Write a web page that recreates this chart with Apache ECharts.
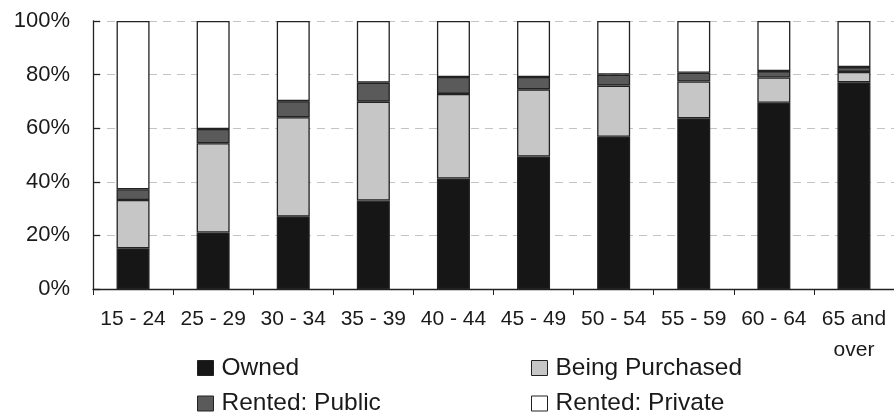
<!DOCTYPE html>
<html>
<head>
<meta charset="utf-8">
<script src="https://cdn.jsdelivr.net/npm/echarts@6/dist/echarts.min.js"></script>
<style>
  html, body { margin: 0; padding: 0; background: #fff; }
  #chart { width: 894px; height: 414px; }
</style>
</head>
<body>
<div id="chart"></div>
<script>
// Housing tenure by age group (percent of households)
const ageGroups = ['15 - 24', '25 - 29', '30 - 34', '35 - 39', '40 - 44', '45 - 49', '50 - 54', '55 - 59', '60 - 64', '65 and\nover'];
const owned          = [15.2, 21.1, 27.0, 33.0, 41.2, 49.4, 56.8, 63.7, 69.5, 77.1];
const beingPurchased = [18.0, 33.3, 37.1, 36.9, 31.6, 25.1, 19.1, 13.7,  9.4,  3.9];
const rentedPublic   = [ 4.0,  5.3,  6.0,  7.1,  6.3,  4.6,  4.1,  3.3,  2.4,  1.8];
const rentedPrivate  = [62.8, 40.3, 29.9, 23.0, 20.9, 20.9, 20.0, 19.3, 18.7, 17.2];
const yTicks = [0, 20, 40, 60, 80, 100];

const FONT = '"Liberation Sans", Arial, sans-serif';
const EDGE = '#222222';
const INK = '#1a1a1a';

function layer(name, data, color) {
  return {
    name: name,
    type: 'bar',
    stack: 'tenure',
    data: data,
    barWidth: 33,
    itemStyle: { color: color, borderColor: EDGE, borderWidth: 1.3 },
    emphasis: { disabled: true }
  };
}

// Two stacked legend columns, two entries each
function legendColumn(names, left) {
  return {
    data: names,
    orient: 'vertical',
    left: left, top: 355,
    height: 90,
    padding: 0,
    itemWidth: 16, itemHeight: 15, itemGap: 9.5,
    icon: 'rect',
    itemStyle: { borderColor: EDGE, borderWidth: 1 },
    textStyle: { fontFamily: FONT, fontSize: 24.5, lineHeight: 26, color: INK, padding: [0, 0, 0, 3] }
  };
}

const chart = echarts.init(document.getElementById('chart'), null, { renderer: 'canvas' });
chart.setOption({
  animation: false,
  backgroundColor: '#ffffff',
  grid: { left: 93, top: 21, width: 810, height: 268, containLabel: false },
  legend: [
    legendColumn(['Owned', 'Rented: Public'], 197),
    legendColumn(['Being Purchased', 'Rented: Private'], 531)
  ],
  xAxis: {
    type: 'category',
    data: ageGroups,
    boundaryGap: true,
    axisLine: { lineStyle: { color: EDGE, width: 1.3 } },
    axisTick: { show: true, length: 6, inside: false, lineStyle: { color: EDGE, width: 1 } },
    axisLabel: {
      interval: 0, margin: 15, fontFamily: FONT, fontSize: 21, color: INK, lineHeight: 31,
      alignMinLabel: 'center', alignMaxLabel: 'center'
    },
    splitLine: { show: false }
  },
  yAxis: {
    type: 'value',
    min: yTicks[0],
    max: yTicks[yTicks.length - 1],
    interval: yTicks[1] - yTicks[0],
    axisLine: { show: true, lineStyle: { color: EDGE, width: 1.3 } },
    axisTick: { show: true, inside: true, length: 7, lineStyle: { color: EDGE, width: 1.3 } },
    axisLabel: { margin: 23, fontFamily: FONT, fontSize: 22, color: INK, formatter: '{value}%' },
    splitLine: { show: true, lineStyle: { color: '#c4c4c4', type: [8, 6], width: 1 } }
  },
  series: [
    layer('Owned', owned, '#161616'),
    layer('Being Purchased', beingPurchased, '#c6c6c6'),
    layer('Rented: Public', rentedPublic, '#5a5a5a'),
    layer('Rented: Private', rentedPrivate, '#ffffff')
  ]
});
</script>
</body>
</html>
